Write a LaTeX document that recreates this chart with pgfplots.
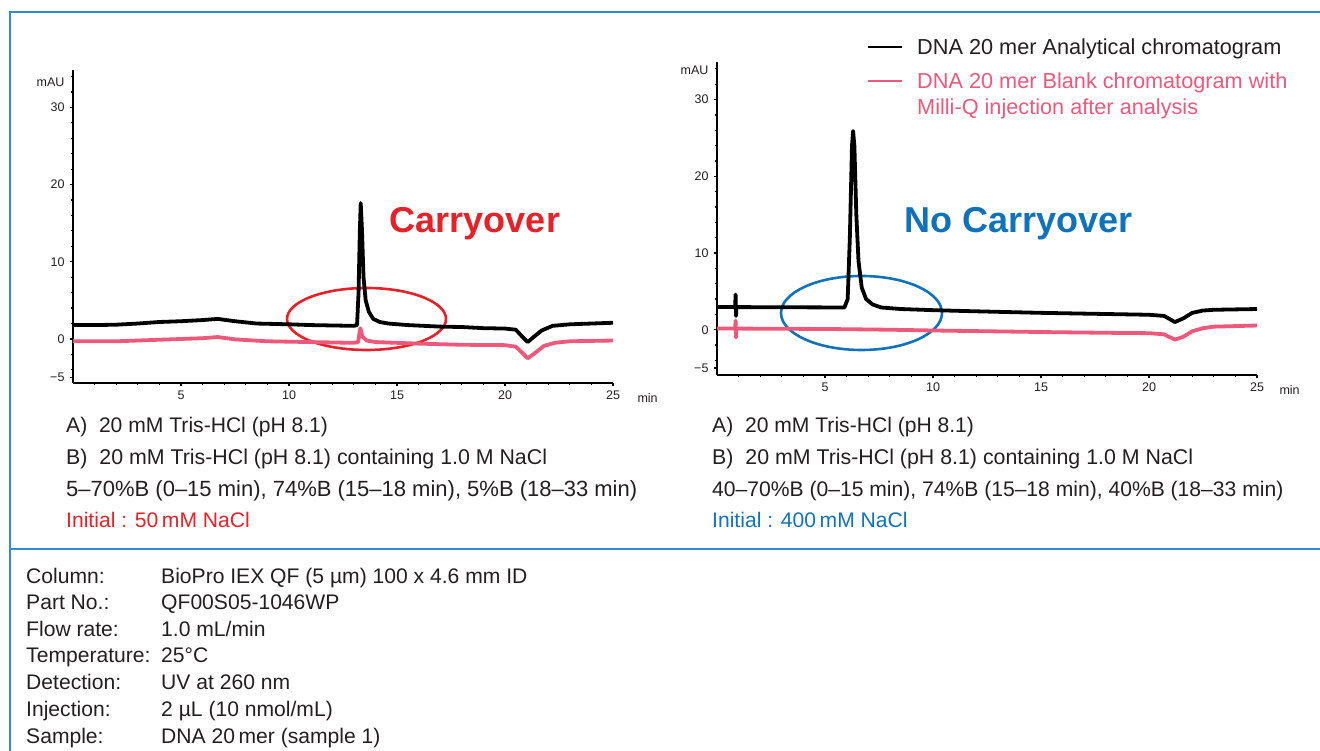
\documentclass[border=0pt]{standalone}
\usepackage{pgfplots}
\pgfplotsset{compat=1.18}
\usepackage{fontspec}
\setmainfont{Liberation Sans}
\definecolor{frameblue}{RGB}{45,140,210}
\definecolor{pinkline}{RGB}{238,88,122}
\definecolor{carryred}{RGB}{232,32,40}
\definecolor{noblue}{RGB}{16,114,186}
\definecolor{txt}{RGB}{35,31,32}
\pgfplotsset{
  chrom/.style={
    scale only axis, width=540pt, xmin=0, xmax=25,
    axis x line=bottom, axis y line=left,
    axis line style={line width=2.8pt,-},
    xtick={5,10,15,20,25}, xticklabels={5,10,15,20,25},
    minor xtick={1,2,3,4,6,7,8,9,11,12,13,14,16,17,18,19,21,22,23,24},
    ytick={-5,0,10,20,30}, yticklabels={−5,0,10,20,30},
    minor ytick={-4,-2,2,4,6,8,12,14,16,18,22,24,26,28,32,34},
    tick align=outside, major tick length=3pt, minor tick length=2.5pt,
    tick style={black, line width=1.2pt},
    ticklabel style={font=\fontsize{12.5}{12.5}\selectfont, text=txt},
    yticklabel style={xshift=-2pt},
    xticklabel style={yshift=-1pt},
    clip=false,
  }
}
\begin{document}
\begin{tikzpicture}[x=1pt,y=1pt]
\path[use as bounding box] (0,0) rectangle (1320,751);
% frame
\draw[frameblue, line width=1.5pt] (10,0) -- (10,{751-12}) -- (1320,{751-12});
\draw[frameblue, line width=1.5pt] (10,{751-549}) -- (1320,{751-549});
% ellipses
\draw[carryred, line width=2.6pt] (366.5,{751-319}) ellipse [x radius=79.5, y radius=31];
\draw[noblue, line width=2.6pt] (861.5,{751-313}) ellipse [x radius=80.5, y radius=37];

% left chromatogram
\begin{axis}[chrom, at={(73pt,368pt)}, anchor=south west, height=312.7pt, ymin=-5.7, ymax=34.8]
\addplot[pinkline, line width=3.8pt, line join=round] coordinates {
(0,-0.3)(2,-0.3)(4,-0.1)(6,0.1)(6.7,0.25)(7.5,-0.05)(9,-0.3)(11,-0.4)(13,-0.5)(13.2,-0.4)
(13.3,1.4)(13.4,0.3)(13.6,-0.2)(14,-0.4)(16,-0.6)(18,-0.75)(20,-0.8)(20.5,-1.0)(20.8,-1.8)
(21.05,-2.5)(21.4,-1.8)(21.8,-0.9)(22.3,-0.5)(23,-0.3)(25,-0.2)};
\addplot[black, line width=3.8pt, line join=round] coordinates {
(0,1.8)(1,1.8)(2,1.85)(3,2.0)(4,2.2)(5,2.3)(6,2.45)(6.7,2.6)(7.5,2.3)(8.5,2.0)(10,1.9)(11,1.8)
(12,1.75)(13.0,1.7)(13.15,1.8)(13.22,6)(13.28,14)(13.32,17.6)(13.38,14)(13.45,8)(13.55,5)
(13.7,3.5)(13.9,2.6)(14.2,2.2)(14.6,2.0)(15.5,1.8)(17,1.6)(18,1.55)(19,1.4)(20,1.35)(20.5,1.2)
(20.8,0.3)(21.05,-0.4)(21.3,0.2)(21.7,1.1)(22.2,1.7)(23,1.9)(24,2.0)(25,2.1)};
\end{axis}
\node[anchor=east, font=\fontsize{12.5}{12.5}\selectfont, text=txt] at (68,{751-82}) {mAU};
\node[anchor=west, font=\fontsize{12.5}{12.5}\selectfont, text=txt] at (634,{751-398}) {min};

% right chromatogram
\begin{axis}[chrom, at={(717pt,376pt)}, anchor=south west, height=313pt, ymin=-5.9, ymax=34.9]
\addplot[pinkline, line width=3.8pt, line join=round] coordinates {
(0,0.15)(0.84,0.15)(0.86,1.2)(0.88,-1.0)(0.9,0.15)(5,0.1)(8,0.0)(10,-0.1)(15,-0.3)(18,-0.4)
(20,-0.45)(20.7,-0.6)(21.2,-1.3)(21.6,-0.9)(22.0,-0.2)(22.5,0.2)(23,0.4)(25,0.55)};
\addplot[black, line width=3.8pt, line join=round] coordinates {
(0,2.95)(0.84,2.95)(0.86,4.6)(0.88,1.8)(0.9,2.95)(5.9,2.9)(6.05,4)(6.15,12)(6.25,24)(6.3,25.9)
(6.36,24)(6.45,15)(6.55,9)(6.7,5.5)(6.9,4.0)(7.2,3.3)(7.6,2.9)(8.5,2.7)(10,2.55)(12,2.4)
(15,2.2)(18,2.05)(19,2.0)(20,1.95)(20.7,1.8)(21.2,1.0)(21.6,1.5)(22.0,2.2)(22.5,2.5)(23,2.6)(25,2.7)};
\end{axis}
\node[anchor=east, font=\fontsize{12.5}{12.5}\selectfont, text=txt] at (712,{751-70}) {mAU};
\node[anchor=west, font=\fontsize{12.5}{12.5}\selectfont, text=txt] at (1276,{751-390}) {min};

% big labels
\node[font=\fontsize{36}{36}\selectfont\bfseries, text=carryred] at (475,{751-224}) {Carryover};
\node[font=\fontsize{36}{36}\selectfont\bfseries, text=noblue] at (1019,{751-224}) {No Carryover};

% legend
\draw[black, line width=2.8pt] (868,{751-47}) -- (902,{751-47});
\draw[pinkline, line width=2.8pt] (868,{751-81}) -- (902,{751-81});
\begin{scope}[every node/.style={anchor=base west, inner sep=0pt, font=\fontsize{21.7}{21.7}\selectfont}]
\node[text=txt] at (917,{751-55}) {DNA 20 mer Analytical chromatogram};
\node[text=pinkline] at (917,{751-89}) {DNA 20 mer Blank chromatogram with};
\node[text=pinkline] at (917,{751-115}) {Milli-Q injection after analysis};
\end{scope}

% conditions
\begin{scope}[every node/.style={anchor=base west, inner sep=0pt, font=\fontsize{21.1}{21.1}\selectfont, text=txt}]
\node at (66,{751-433}) {A)\ \ 20 mM Tris-HCl (pH 8.1)};
\node[font=\fontsize{21.35}{21.35}\selectfont] at (66,{751-465}) {B)\ \ 20 mM Tris-HCl (pH 8.1) containing 1.0 M NaCl};
\node[font=\fontsize{22}{22}\selectfont] at (66,{751-497}) {5–70\%B (0–15 min), 74\%B (15–18 min), 5\%B (18–33 min)};
\node[text=carryred] at (66,{751-528}) {Initial : 50\,mM NaCl};
\node at (712,{751-433}) {A)\ \ 20 mM Tris-HCl (pH 8.1)};
\node[font=\fontsize{21.35}{21.35}\selectfont] at (712,{751-465}) {B)\ \ 20 mM Tris-HCl (pH 8.1) containing 1.0 M NaCl};
\node[font=\fontsize{21.1}{21.1}\selectfont] at (712,{751-497}) {40–70\%B (0–15 min), 74\%B (15–18 min), 40\%B (18–33 min)};
\node[text=noblue] at (712,{751-528}) {Initial : 400\,mM NaCl};
% bottom block
\node at (26,{751-584}) {Column:};      \node at (161,{751-584}) {BioPro IEX QF (5 µm) 100 x 4.6 mm ID};
\node at (26,{751-610}) {Part No.:};    \node at (161,{751-610}) {QF00S05-1046WP};
\node at (26,{751-637}) {Flow rate:};   \node at (161,{751-637}) {1.0 mL/min};
\node at (26,{751-663}) {Temperature:}; \node at (161,{751-663}) {25°C};
\node at (26,{751-690}) {Detection:};   \node at (161,{751-690}) {UV at 260 nm};
\node at (26,{751-717}) {Injection:};   \node at (161,{751-717}) {2 µL (10 nmol/mL)};
\node at (26,{751-744}) {Sample:};      \node at (161,{751-744}) {DNA 20\,mer (sample 1)};
\end{scope}
\end{tikzpicture}
\end{document}
